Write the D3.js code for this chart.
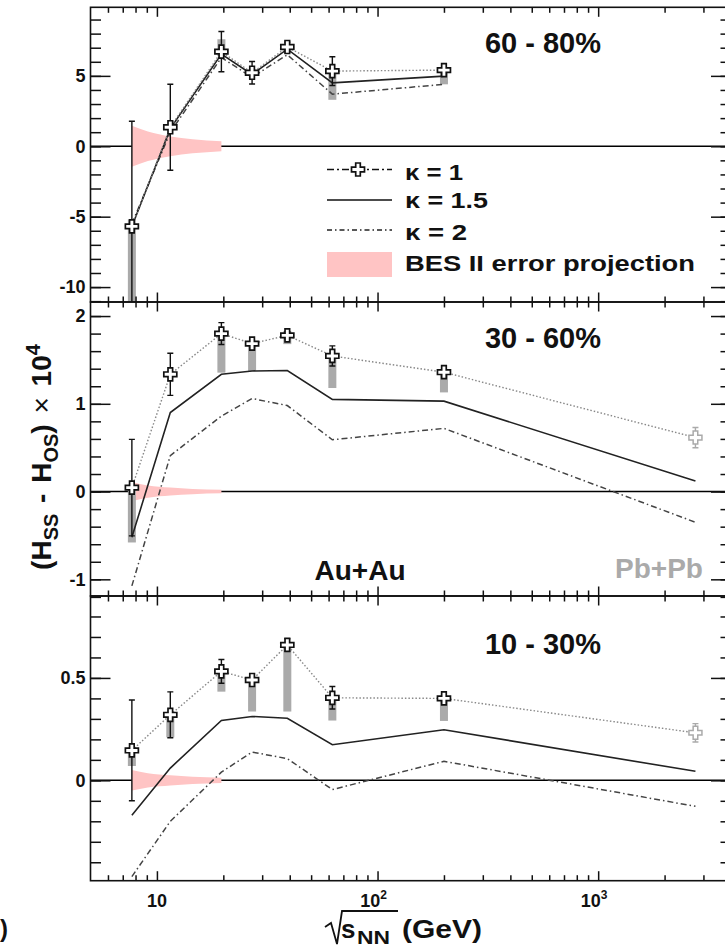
<!DOCTYPE html>
<html>
<head>
<meta charset="utf-8">
<script src="https://d3js.org/d3.v7.min.js"></script>
<style>
  body { margin: 0; background: #fff; overflow: hidden; }
  svg { display: block; font-family: "Liberation Sans", Arial, sans-serif; }
</style>
</head>
<body>
<svg id="chart"></svg>
<script>
// collision energies (GeV)
const energies = [7.7, 11.5, 19.6, 27, 39, 62.4, 200];
const lhcEnergy = 2760;
const modelEnergies = [7.7, 11.5, 19.6, 27, 39, 62.4, 200, 2760];
const besEnergies = [7.7, 9.1, 11.5, 14.5, 19.6];

const centralities = ["60 - 80%", "30 - 60%", "10 - 30%"];

// kappa = 1 measured points, one row per panel
const k1Values = [
  [-5.69, 1.35, 6.72, 5.22, 7.05, 5.34, 5.41],
  [0.045, 1.336, 1.80, 1.686, 1.78, 1.545, 1.36],
  [0.146, 0.32, 0.532, 0.49, 0.661, 0.403, 0.40]
];
const k1Stat = [
  [7.47, 3.05, 1.43, 0.8, 0.35, 1.02, 0.2],
  [0.55, 0.24, 0.125, 0.04, 0.04, 0.115, 0.03],
  [0.246, 0.112, 0.058, 0.03, 0.03, 0.055, 0.02]
];
// systematic bars [low, high]
const k1SysLow = [
  [-12, null, 6.4, null, null, 3.3, 4.4],
  [-0.58, null, 1.355, 1.374, 1.68, 1.18, 1.13],
  [0.07, 0.21, 0.433, 0.336, 0.336, 0.292, 0.29]
];
const k1SysHigh = [
  [-5.2, null, 7.6, null, null, 5.3, 5.4],
  [0.045, null, 1.8, 1.686, 1.83, 1.545, 1.36],
  [0.16, 0.32, 0.532, 0.49, 0.661, 0.403, 0.40]
];
// Pb+Pb points (null = not shown)
const pbValues = [null, 0.615, 0.232];
const pbStat = [null, 0.115, 0.045];

// kappa = 1.5 and kappa = 2 curves
const k15Values = [
  [-5.7, 1.25, 6.55, 5.1, 6.9, 4.5, 4.98],
  [-0.52, 0.90, 1.336, 1.374, 1.38, 1.05, 1.03, 0.12],
  [-0.17, 0.06, 0.292, 0.312, 0.303, 0.174, 0.247, 0.044]
];
const k2Values = [
  [-5.5, 1.0, 6.3, 4.9, 6.5, 3.7, 4.4],
  [-1.075, 0.41, 0.86, 1.06, 0.98, 0.59, 0.72, -0.35],
  [-0.47, -0.2, 0.04, 0.138, 0.106, -0.045, 0.093, -0.127]
];

// BES II projected error half-widths
const besHalf = [
  [1.45, 1.05, 0.7, 0.5, 0.35],
  [0.11, 0.07, 0.045, 0.03, 0.02],
  [0.05, 0.035, 0.025, 0.018, 0.013]
];

// y axes
const yDomains = [[-11.06, 9.87], [-1.19, 2.16], [-0.49, 0.90]];
const yMajor = [[-10, -5, 0, 5], [-1, 0, 1, 2], [0, 0.5]];
const yMinor = [
  d3.range(-11, 10, 1),
  d3.range(-1.2, 2.2, 0.2).map(d => +d.toFixed(1)),
  d3.range(-0.4, 0.9, 0.1).map(d => +d.toFixed(1))
];
const xMajor = [10, 100, 1000];
const xMinor = [6, 7, 8, 9, 20, 30, 40, 50, 60, 70, 80, 90, 200, 300, 400, 500, 600, 700, 800, 900, 2000, 3000, 4000];
const xTickExp = ["", "2", "3"];

// layout
const W = 725, H = 948;
const left = 90.5, right = 731;
const panelTop = [7.3, 302, 596];
const panelBottom = [302, 596, 880.7];

const svg = d3.select("#chart").attr("width", W).attr("height", H);
const x = d3.scaleLog().domain([5, 4000]).range([left, right]);

const crossPath = (s, a) => `M${-a},${-s}H${a}V${-a}H${s}V${a}H${a}V${s}H${-a}V${a}H${-s}V${-a}H${-a}Z`;

centralities.forEach((label, i) => {
  const y = d3.scaleLinear().domain(yDomains[i]).range([panelBottom[i], panelTop[i]]);
  const g = svg.append("g");

  g.append("clipPath").attr("id", "clip" + i)
    .append("rect")
    .attr("x", left).attr("y", panelTop[i])
    .attr("width", right - left).attr("height", panelBottom[i] - panelTop[i]);

  const plot = g.append("g").attr("clip-path", `url(#clip${i})`);

  // zero line
  plot.append("line")
    .attr("x1", left).attr("x2", right)
    .attr("y1", y(0)).attr("y2", y(0))
    .attr("stroke", "#000").attr("stroke-width", 1.5);

  // BES II projection band
  const band = d3.area()
    .x((d, j) => x(besEnergies[j]))
    .y0(d => y(-d))
    .y1(d => y(d))
    .curve(d3.curveMonotoneX);
  plot.append("path").datum(besHalf[i])
    .attr("d", band)
    .attr("fill", "#ffc4c4");

  // systematic bars
  energies.forEach((e, j) => {
    const lo = k1SysLow[i][j], hi = k1SysHigh[i][j];
    if (lo == null) return;
    plot.append("rect")
      .attr("x", x(e) - 4).attr("width", 8)
      .attr("y", y(hi)).attr("height", y(lo) - y(hi))
      .attr("fill", "#aaaaaa");
  });

  // model curves
  const line = d3.line().x((d, j) => x(modelEnergies[j])).y(d => y(d));
  plot.append("path").datum(k2Values[i])
    .attr("d", line).attr("fill", "none")
    .attr("stroke", "#444").attr("stroke-width", 1.5)
    .attr("stroke-dasharray", "6,3,1.5,3");
  plot.append("path").datum(k15Values[i])
    .attr("d", line).attr("fill", "none")
    .attr("stroke", "#222").attr("stroke-width", 1.6);

  // kappa = 1 dotted line through data points
  const k1Line = k1Values[i].slice();
  if (pbValues[i] != null) k1Line.push(pbValues[i]);
  plot.append("path").datum(k1Line)
    .attr("d", line).attr("fill", "none")
    .attr("stroke", "#888").attr("stroke-width", 1.4)
    .attr("stroke-dasharray", "1.5,2");

  // error bars
  const errBar = (e, v, s, color) => {
    const gx = x(e);
    const eb = plot.append("g").attr("stroke", color).attr("stroke-width", 1.4);
    eb.append("line").attr("x1", gx).attr("x2", gx).attr("y1", y(v + s)).attr("y2", y(v - s));
    eb.append("line").attr("x1", gx - 3).attr("x2", gx + 3).attr("y1", y(v + s)).attr("y2", y(v + s));
    eb.append("line").attr("x1", gx - 3).attr("x2", gx + 3).attr("y1", y(v - s)).attr("y2", y(v - s));
  };
  energies.forEach((e, j) => errBar(e, k1Values[i][j], k1Stat[i][j], "#111"));
  if (pbValues[i] != null) errBar(lhcEnergy, pbValues[i], pbStat[i], "#aaa");

  // markers
  energies.forEach((e, j) => {
    plot.append("path")
      .attr("d", crossPath(6.5, 2.3))
      .attr("transform", `translate(${x(e)},${y(k1Values[i][j])})`)
      .attr("fill", "#fff").attr("stroke", "#111").attr("stroke-width", 1.7);
  });
  if (pbValues[i] != null) {
    plot.append("path")
      .attr("d", crossPath(6.5, 2.3))
      .attr("transform", `translate(${x(lhcEnergy)},${y(pbValues[i])})`)
      .attr("fill", "#fff").attr("stroke", "#aaa").attr("stroke-width", 1.5);
  }

  // axes
  const styleAxis = sel => {
    sel.select(".domain").remove();
    sel.selectAll(".tick line").attr("stroke", "#111").attr("stroke-width", 1.5);
    sel.selectAll(".tick text")
      .attr("font-size", 18).attr("font-weight", "bold").attr("fill", "#111")
      .attr("font-family", "Liberation Sans, Arial, sans-serif");
  };
  g.append("g").attr("transform", `translate(${left},0)`)
    .call(d3.axisLeft(y).tickValues(yMinor[i]).tickSizeInner(-10.5).tickSizeOuter(0).tickFormat(""))
    .call(styleAxis);
  g.append("g").attr("transform", `translate(${left},0)`)
    .call(d3.axisLeft(y).tickValues(yMajor[i]).tickSizeInner(-20).tickSizeOuter(0).tickPadding(5).tickFormat(d => String(d)))
    .call(styleAxis);
  g.append("g").attr("transform", `translate(${right},0)`)
    .call(d3.axisRight(y).tickValues(yMinor[i]).tickSizeInner(-10.5).tickSizeOuter(0).tickFormat(""))
    .call(styleAxis);
  g.append("g").attr("transform", `translate(${right},0)`)
    .call(d3.axisRight(y).tickValues(yMajor[i]).tickSizeInner(-20).tickSizeOuter(0).tickFormat(""))
    .call(styleAxis);

  g.append("g").attr("transform", `translate(0,${panelTop[i]})`)
    .call(d3.axisTop(x).tickValues(xMinor).tickSizeInner(-5.5).tickSizeOuter(0).tickFormat(""))
    .call(styleAxis);
  g.append("g").attr("transform", `translate(0,${panelTop[i]})`)
    .call(d3.axisTop(x).tickValues(xMajor).tickSizeInner(-9.5).tickSizeOuter(0).tickFormat(""))
    .call(styleAxis);
  g.append("g").attr("transform", `translate(0,${panelBottom[i]})`)
    .call(d3.axisBottom(x).tickValues(xMinor).tickSizeInner(-5.5).tickSizeOuter(0).tickFormat(""))
    .call(styleAxis);
  g.append("g").attr("transform", `translate(0,${panelBottom[i]})`)
    .call(d3.axisBottom(x).tickValues(xMajor).tickSizeInner(-9.5).tickSizeOuter(0).tickFormat(""))
    .call(styleAxis);

  // frame
  g.append("rect")
    .attr("x", left).attr("y", panelTop[i])
    .attr("width", right - left).attr("height", panelBottom[i] - panelTop[i])
    .attr("fill", "none").attr("stroke", "#111").attr("stroke-width", 1.6);

  // centrality label
  g.append("text")
    .attr("x", 543).attr("y", panelTop[i] + (i == 2 ? 57.5 : 46))
    .attr("text-anchor", "middle")
    .attr("font-size", 29).attr("font-weight", "bold").attr("fill", "#111")
    .text(label);
});

// x tick labels on bottom panel
xMajor.forEach((v, k) => {
  const t = svg.append("text")
    .attr("x", x(v) - (xTickExp[k] ? 4 : 0)).attr("y", 907)
    .attr("text-anchor", "middle")
    .attr("font-size", 18).attr("font-weight", "bold").attr("fill", "#111")
    .text("10");
  if (xTickExp[k]) {
    t.append("tspan").attr("dy", -8).attr("font-size", 12).text(xTickExp[k]);
  }
});

// collision system labels
svg.append("text").attr("x", 360).attr("y", 580).attr("text-anchor", "middle")
  .attr("font-size", 28).attr("font-weight", "bold").attr("fill", "#111").text("Au+Au");
svg.append("text").attr("x", 659).attr("y", 578).attr("text-anchor", "middle")
  .attr("font-size", 28).attr("font-weight", "bold").attr("fill", "#aaa").text("Pb+Pb");

// legend
const leg = svg.append("g");
const legX0 = 327, legX1 = 392, legText = 405;
leg.append("line").attr("x1", legX0).attr("x2", legX1).attr("y1", 169.5).attr("y2", 169.5)
  .attr("stroke", "#111").attr("stroke-width", 1.5).attr("stroke-dasharray", "7,3,2,3");
leg.append("path").attr("d", crossPath(6.5, 2.3)).attr("transform", "translate(358,169.5)")
  .attr("fill", "#fff").attr("stroke", "#111").attr("stroke-width", 1.7);
leg.append("line").attr("x1", legX0).attr("x2", legX1).attr("y1", 200).attr("y2", 200)
  .attr("stroke", "#111").attr("stroke-width", 1.6);
leg.append("line").attr("x1", legX0).attr("x2", legX1).attr("y1", 230).attr("y2", 230)
  .attr("stroke", "#222").attr("stroke-width", 1.5).attr("stroke-dasharray", "5,3,1.5,3");
leg.append("rect").attr("x", legX0).attr("y", 252).attr("width", legX1 - legX0).attr("height", 25)
  .attr("fill", "#ffc4c4");

const legendLabels = ["κ = 1", "κ = 1.5", "κ = 2", "BES II error projection"];
const legendBase = [179.5, 208, 240, 270.5];
const legendWidth = [58, 83, 62, 290];
legendLabels.forEach((s, k) => {
  leg.append("text").attr("x", legText).attr("y", legendBase[k])
    .attr("font-size", 22).attr("font-weight", "bold").attr("fill", "#111")
    .attr("textLength", legendWidth[k]).attr("lengthAdjust", "spacingAndGlyphs")
    .text(s);
});

// y axis title
const yt = svg.append("text")
  .attr("transform", "translate(51,457) rotate(-90)")
  .attr("text-anchor", "middle")
  .attr("font-size", 28).attr("font-weight", "bold").attr("fill", "#111")
  .attr("word-spacing", 3);
yt.append("tspan").text("(H");
yt.append("tspan").attr("dy", 7).attr("font-size", 20).text("SS");
yt.append("tspan").attr("dy", -7).text(" - H");
yt.append("tspan").attr("dy", 7).attr("font-size", 20).text("OS");
yt.append("tspan").attr("dy", -7).text(")");
yt.append("tspan").attr("font-weight", "normal").text(" × ");
yt.append("tspan").text("10");
yt.append("tspan").attr("dy", -11).attr("font-size", 20).text("4");

// x axis title with radical sign
svg.append("path")
  .attr("d", "M325,927 L331,923 L337,944 L342,911 L398,911")
  .attr("fill", "none").attr("stroke", "#111").attr("stroke-width", 1.8);
svg.append("text").attr("x", 341).attr("y", 938)
  .attr("font-size", 26).attr("font-weight", "bold").attr("fill", "#111").text("s");
svg.append("text").attr("x", 357).attr("y", 944)
  .attr("font-size", 19).attr("font-weight", "bold").attr("fill", "#111")
  .attr("textLength", 33).attr("lengthAdjust", "spacingAndGlyphs").text("NN");
svg.append("text").attr("x", 402).attr("y", 938)
  .attr("font-size", 26).attr("font-weight", "bold").attr("fill", "#111")
  .attr("textLength", 80).attr("lengthAdjust", "spacingAndGlyphs").text("(GeV)");

// panel tag, mostly cut off at the left edge
svg.append("text").attr("x", 8).attr("y", 937).attr("text-anchor", "end")
  .attr("font-size", 24).attr("font-weight", "bold").attr("fill", "#111").text("(c)");
</script>
</body>
</html>
